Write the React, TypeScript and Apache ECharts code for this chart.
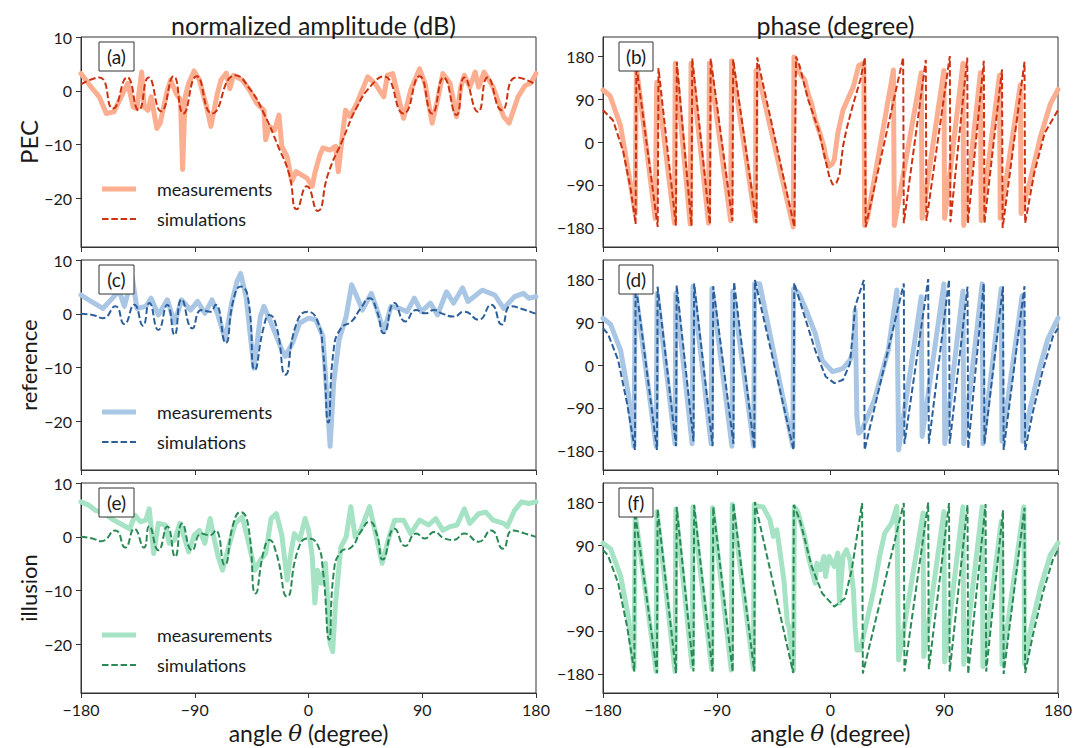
import React, { useEffect, useRef } from 'react';
import * as echarts from 'echarts';

// ---------- tick labels / categories ----------
const ANGLE_TICKS = [-180, -90, 0, 90, 180];
const AMP_TICKS = [-20, -10, 0, 10];
const PHASE_TICKS = [-180, -90, 0, 90, 180];
const ROW_NAMES = ['PEC', 'reference', 'illusion'];
const PANEL_LABELS = ['(a)', '(b)', '(c)', '(d)', '(e)', '(f)'];
const COL_TITLES = ['normalized amplitude (dB)', 'phase (degree)'];
const LEGEND_NAMES = ['measurements', 'simulations'];

// ---------- colours ----------
const LIGHT = ['#fcae91', '#a9c7e5', '#a6e3c5'];
const DARK = ['#cc3311', '#2c5f9a', '#2a8a56'];

// ---------- data: [angle (deg), value] ----------
const PEC_AMP_MEAS: number[][] = [
  [-180, 3.2], [-171, 0.4], [-165.6, -1.1], [-160, -4.2], [-154, -3.9], [-145.7, 0.1], [-143, 1.4], [-138.7, -3],
  [-135.8, -3.3], [-132, 3.5], [-130, -3], [-127, -3.6], [-124.5, -1.1], [-120, -7], [-117.4, -6], [-111.7, 0.1],
  [-109, 2], [-104.7, -0.5], [-101.3, -1.7], [-99.6, -14.6], [-97.6, -1.1], [-94.8, 1.4], [-90.5, 3.7], [-86.3, 2],
  [-80.6, -3], [-77.2, -6.6], [-72.1, -0.5], [-69.3, 2], [-65, 3.3], [-62.2, 0.4], [-59.4, 2.9], [-52.3, 2],
  [-46.6, 0.1], [-41, -2.3], [-35.3, -3.6], [-33.9, -9.1], [-31, -6.6], [-26.8, -7.3], [-23.4, -4.5], [-21.1, -10.3],
  [-16.9, -12.2], [-13.2, -16.8], [-9.8, -15], [-5.5, -15.6], [-1.3, -16.2], [3, -17.7], [5, -15.3], [8.6, -12.2],
  [11.4, -10.6], [17.1, -11], [21.4, -10.3], [23.6, -15], [27, -7.9], [29.3, -3.6], [32.7, -4.8], [38.3, -2.3],
  [46.8, 2.6], [52.5, 1.4], [59.6, -1.1], [62.4, 2.9], [66.7, 3.2], [75.2, -5.1], [80.8, 0.1], [87.9, 4.1],
  [92.2, 1.4], [97.8, -6], [102.1, -1.7], [106.3, 3.2], [112, 1.4], [117.1, -4.8], [120.5, 0.7], [123.3, 2.9],
  [127.6, 0.7], [131.9, 3.5], [134.6, 0.7], [138.9, 3.5], [146, 0.7], [154.4, -4.8], [158.7, -6], [165.8, -1.1],
  [171.5, 1], [175.7, 1.4], [180, 3.2],
];
const PEC_AMP_SIM: number[][] = [
  [-180, 1.2], [-165.6, 2.5], [-154.8, -3.3], [-143.5, 2.5], [-134.4, -3.6], [-126.5, 2.5], [-116.6, -3.8],
  [-106.7, 2.7], [-99, -4.2], [-88.5, 2.7], [-76.3, -4.2], [-58, 2.9], [-46.6, 0.4], [-35.3, -4.2], [-24, -10.3],
  [-15.5, -15.3], [-9.2, -22], [-1.3, -17.7], [7.2, -22.3], [15.7, -15.3], [27, -9.1], [38.3, -3], [49.7, 1],
  [59.6, 2.7], [75.2, -4.2], [87.9, 2.7], [97.8, -4.2], [106.9, 2.5], [117.1, -4.5], [123.3, 2.5], [134.1, -3.9],
  [141.7, 2.5], [153, -3.6], [164.4, 2.5], [180, 1.2],
];
const REF_AMP_MEAS: number[][] = [
  [-180, 3.5], [-174, 2.6], [-162.7, 1], [-154, 3.2], [-150, 4.4], [-145.7, 1.4], [-139.5, 6.9], [-135.8, 1],
  [-128.7, 1.4], [-124.5, 2.9], [-118.8, -0.2], [-111.7, 2.6], [-106, -1.7], [-100.4, 2.6], [-93.3, 0.7],
  [-87.7, 2.3], [-82, 0.1], [-76.3, 2.6], [-72.1, 0.1], [-65.9, -4.8], [-60.8, 2], [-56.6, 6], [-53.7, 7.5],
  [-49.4, 3.2], [-43.2, -10.1], [-38.1, -0.5], [-35.3, 1.4], [-29.6, -1.7], [-21.1, -6.7], [-18.3, -7.9],
  [-12.6, -5.4], [-7, -1.7], [0.1, -0.8], [5.8, -1.1], [11.4, -4.2], [15.1, -17.2], [17.1, -24.6], [19.9, -12.8],
  [24.2, -4.8], [29.8, -0.5], [34.1, 5.4], [38.3, 3.2], [42.6, 0.7], [49.7, 3.8], [53.9, 1], [59.6, -3.3],
  [65.3, 1.4], [72.3, 1], [78, 0.4], [83.7, 2.9], [89.3, 0.4], [96.4, 2], [102.1, -0.2], [109.2, 4.1],
  [114.8, 2], [121.9, 4.8], [126.2, 2.3], [137.5, 4.4], [147.4, 3.5], [154.4, 1], [163, 3.2], [170, 3.8],
  [174.3, 2.9], [180, 3.2],
];
const REF_AMP_SIM: number[][] = [
  [-180, 0], [-171, -0.2], [-162.7, -0.8], [-152.8, 1.4], [-145.7, -1.9], [-137.8, 1.7], [-131, -2.2],
  [-125.9, 2], [-118.8, -3], [-111.7, 1.7], [-106, -3.9], [-100.4, 2.7], [-91.9, -2.7], [-84.8, 0.7],
  [-77.8, 0.4], [-73.5, 1.7], [-65.6, -5.4], [-59.4, 2.6], [-53.7, 5.1], [-48, 3.2], [-42.4, -10.4],
  [-35.3, -2.3], [-31, -0.2], [-25.4, -2.3], [-18.3, -11.3], [-9.8, -2], [-0.7, 0.4], [7.2, -1.4],
  [11.4, -6.7], [15.7, -20.2], [19.9, -6.7], [25.6, -2.7], [34.1, -1.4], [41.2, 1], [48.3, 2.9], [53.9, 0.7],
  [59.6, -3.6], [68.1, 2], [76.6, -1.4], [85.1, 0.7], [92.2, 0.1], [99.2, 0.7], [106.3, 0], [114.8, -0.5],
  [123.3, 0.4], [134.6, -1.1], [144.5, 1.7], [153, -2], [160.1, 1.4], [171.5, 0.7], [180, 0],
];
const ILL_AMP_MEAS: number[][] = [
  [-180, 6.5], [-174, 5.9], [-168.4, 4.9], [-161.3, 4.3], [-154, 3.1], [-147, 2.2], [-141.5, 1.5], [-137.2, 4],
  [-133, 2.8], [-128.7, 3.1], [-126, 5.2], [-122.5, -3.1], [-118.8, 2.5], [-113.2, 2.2], [-110.3, -1.2],
  [-106, -0.6], [-101.8, 2.5], [-94.8, -2.8], [-90.5, 0.3], [-86.3, 1.2], [-82, -1.2], [-77.8, 3.4], [-75, 0],
  [-71.5, -3.7], [-68, -6.2], [-63.6, -2.2], [-58, 2.5], [-52.3, 3.7], [-46.6, -1.9], [-42.4, -6.2],
  [-38.1, -4.3], [-33.9, -3.1], [-29.6, 3.4], [-25.4, 4.3], [-21.1, 0.3], [-16.9, -8], [-14, -3.1],
  [-11.2, 0.6], [-7, -0.6], [-2.7, 3.4], [0.1, 1.2], [3, -3.7], [5, -12.3], [7.2, -6.2], [10, -8.6],
  [13.4, -4.9], [17.1, -19.8], [19.1, -21.3], [21.4, -12.3], [25.6, -1.9], [29.8, 0], [33.5, 5.6], [36.9, 0],
  [41.2, 1.2], [48.3, 5.6], [52.5, 1.2], [58.2, -4.9], [63.8, 0], [68.1, 3.1], [75.2, 3.1], [80.8, 0.6],
  [87.9, 3.1], [95, 2.2], [100.6, 3.4], [106.3, 1.2], [112, 1.9], [117.6, 2.2], [123.3, 5.2], [127.6, 2.5],
  [134.6, 4.3], [140.3, 4.6], [146, 3.1], [154.4, 2.5], [157.3, 1.9], [163, 4.9], [168.6, 6.5], [174.3, 6.2],
  [180, 6.5],
];
const ILL_AMP_SIM: number[][] = [
  [-180, 0], [-171, -0.3], [-164, -0.8], [-152.8, 1.2], [-145, -2], [-137.8, 1.5], [-130.2, -2], [-126, 2],
  [-118.8, -2.5], [-111.7, 1.9], [-105.5, -3.7], [-100, 2.5], [-92, -2.5], [-84.8, 0.6], [-77.8, 0.3],
  [-73.5, 1.2], [-66.4, -5.2], [-59.4, 2.5], [-53.7, 4.6], [-48, 2.5], [-41.8, -10.5], [-35.3, -2.5],
  [-31, -0.6], [-25.4, -3.1], [-16.9, -11.1], [-8.4, -2.5], [-0.7, -0.3], [7.2, -1.5], [11.4, -6.2],
  [16.3, -19.1], [19.9, -6.8], [25.6, -2.8], [34.1, -1.9], [41.2, 0.9], [48.3, 2.8], [53.9, 0.6], [58.8, -4.2],
  [68.1, 1.5], [76.6, -1.7], [85.1, 0.6], [92.2, -0.3], [99.2, 0.9], [107.7, -0.3], [114.8, -0.6], [123.3, 0.6],
  [134.6, -0.9], [144.5, 1.2], [153.8, -2.2], [161.5, 1.2], [171.5, 0.6], [180, 0],
];

const PEC_PH_MEAS: number[][] = [
  [-180, 109], [-174.5, 97], [-166.2, 35], [-159.4, -70], [-154.5, -150], [-153.6, 158], [-138.7, -160],
  [-137.5, 125], [-136.5, 110], [-123.5, -170], [-122.8, 165], [-111, -172], [-110.3, 165], [-96.5, -170],
  [-95.8, 165], [-79, -165], [-78.3, 170], [-59.5, -165], [-58.9, 150], [-57.5, 145], [-29.5, -178],
  [-28.9, 178], [-25.9, 150], [-24.5, 145], [-20.4, 130], [-17.6, 100], [-14.9, 80], [-12.1, 47], [-8, 15],
  [-5.2, -10], [-3.9, -30], [-1.1, -51], [1.6, -45], [3, -37], [5.8, 19], [9.9, 67], [18.1, 116], [22.3, 160],
  [26.4, 165], [27, -175], [29.2, -160], [49.8, 151], [50.5, -175], [71.8, 145], [72.5, -160], [89.7, 150],
  [90.3, -160], [104.8, 165], [105.4, -175], [118.6, 145], [119.2, -165], [133.7, 140], [134.3, -160],
  [150.2, 120], [150.8, -150], [158, -80], [166, 10], [174, 80], [180, 110],
];
const PEC_PH_SIM: number[][] = [
  [-180, 67], [-172, 45], [-164, -20], [-158, -100], [-154.2, -172], [-153.6, 160], [-136.7, -178],
  [-136.1, 155], [-122.3, -175], [-121.6, 168], [-110, -176], [-109.4, 175], [-95.4, -172], [-94.8, 175],
  [-77.6, -165], [-77, 173], [-58.6, -170], [-58, 177], [-28.6, -178], [-27.3, 179], [-24.5, 160],
  [-17.6, 88], [-9.4, 25], [-1.1, -71], [1.6, -89], [4.4, -88], [7.1, -70], [9.9, -9], [12.6, 26], [18.1, 81],
  [23.6, 130], [27.2, 177], [27.8, -178], [57.5, 177], [58, -170], [75.4, 172], [75.9, -165], [94.4, 180],
  [94.9, -168], [108.2, 177], [108.7, -170], [121.3, 170], [121.8, -170], [135.7, 152], [136.2, -180],
  [153.5, 168], [154, -170], [161.2, -65], [169.5, 19], [180, 67],
];
const REF_PH_MEAS: number[][] = [
  [-180, 98], [-174, 85], [-166, 30], [-160, -60], [-155.5, -170], [-154.5, 160], [-138, -170], [-137.2, 150],
  [-123, -165], [-122.4, 150], [-109.5, -165], [-108.8, 165], [-94.5, -165], [-93.8, 160], [-78, -170],
  [-77.3, 155], [-60.8, -170], [-60, 170], [-56, 170], [-29.8, -170], [-29.2, 160], [-25, 150], [-20, 120],
  [-12.1, 66], [-6.6, 10], [1.6, -14], [7, -10], [9.9, -7], [15.4, 10], [18.1, 31], [19.5, 115], [20.9, -108],
  [22.3, -143], [25, -136], [34.7, -73], [45.7, 31], [52.5, 157], [53.9, -178], [71.8, 143], [72.5, -150],
  [89.7, 170], [90.4, -165], [104.8, 155], [105.4, -165], [120, 170], [120.6, -165], [135.1, 160],
  [135.7, -160], [151.6, 145], [152.2, -160], [158, -90], [165, -10], [172, 55], [180, 98],
];
const REF_PH_SIM: number[][] = [
  [-180, 77], [-176, 65], [-168, 10], [-161, -80], [-154.7, -178], [-154.2, 171], [-137.3, -178],
  [-136.8, 164], [-122.2, -170], [-121.7, 167], [-108.4, -160], [-107.9, 171], [-93.3, -170], [-92.8, 165],
  [-76.8, -165], [-76.3, 174], [-60.3, -175], [-59.8, 178], [-29.2, -178], [-28.7, 172], [-20.4, 101],
  [-12.1, 31], [-3.9, -24], [3, -38], [9.9, -31], [15.4, 3], [18.1, 80], [19.5, 122], [22.3, 146], [26.4, 178],
  [27, -178], [58, 171], [58.5, -165], [77.3, 180], [77.8, -165], [93.8, 179], [94.3, -165], [108.4, 164],
  [108.9, -175], [121.3, 171], [121.8, -165], [136.5, 165], [137, -178], [153.5, 165], [154, -178],
  [160, -100], [168, -10], [176, 60], [180, 77],
];
const ILL_PH_MEAS: number[][] = [
  [-180, 94], [-174, 82], [-166, 25], [-160, -60], [-155.5, -168], [-154.5, 155], [-138, -175], [-137.3, 160],
  [-123, -175], [-122.4, 165], [-109.5, -165], [-108.8, 170], [-94, -170], [-93.3, 168], [-78.5, -172],
  [-77.8, 175], [-61, -170], [-60.3, 175], [-58.9, 172], [-53.4, 170], [-47.9, 143], [-45.2, 108],
  [-42.4, 122], [-36.9, 17], [-34.1, -74], [-32.8, -81], [-31.4, -116], [-29.2, -172], [-28.6, 170],
  [-25.9, 160], [-20.4, 107], [-17.6, 66], [-14.9, 38], [-12.1, 10], [-10.8, 52], [-8, 38], [-5.2, 66],
  [-3.9, 24], [-1.1, 66], [3, 45], [5.8, 73], [7.1, -32], [9.9, 66], [12.6, 80], [15.4, 59], [18.1, -4],
  [19.5, -81], [20.9, -130], [23.6, -130], [31.9, -32], [34.7, 3], [38.8, 66], [42.9, 115], [48.4, 136],
  [52.5, 171], [53.9, -151], [73.2, 157], [73.8, -144], [89.7, 160], [90.3, -155], [104.8, 170],
  [105.4, -160], [120, 170], [120.6, -165], [135.1, 140], [135.7, -160], [153, 170], [153.5, -160],
  [158, -90], [166, 0], [174, 70], [180, 94],
];
const ILL_PH_SIM: number[][] = [
  [-180, 80], [-176, 68], [-168, 10], [-161, -80], [-155.2, -175], [-154.7, 160], [-137.3, -178],
  [-136.8, 165], [-122.2, -178], [-121.7, 170], [-108.4, -175], [-107.9, 174], [-93.3, -175], [-92.8, 170],
  [-77.4, -175], [-76.9, 178], [-60.3, -175], [-59.8, 180], [-29.5, -178], [-29, 174], [-24, 140],
  [-14.9, 45], [-6.6, -11], [3, -39], [11.3, -22], [16.8, 38], [20.9, 108], [25, 178], [25.6, -179],
  [58, 178], [58.5, -175], [77.3, 179], [77.8, -170], [93.8, 178], [94.3, -175], [108.4, 174], [108.9, -180],
  [122.7, 176], [123.2, -175], [136.5, 163], [137, -180], [153.5, 168], [154, -178], [160, -100], [168, -10],
  [176, 60], [180, 80],
];

const AMP_MEAS = [PEC_AMP_MEAS, REF_AMP_MEAS, ILL_AMP_MEAS];
const AMP_SIM = [PEC_AMP_SIM, REF_AMP_SIM, ILL_AMP_SIM];
const PH_MEAS = [PEC_PH_MEAS, REF_PH_MEAS, ILL_PH_MEAS];
const PH_SIM = [PEC_PH_SIM, REF_PH_SIM, ILL_PH_SIM];

// ---------- layout ----------
const FONT = 'Lato, "Liberation Sans", sans-serif';
const GRID_LEFT = [81, 603];
const GRID_TOP = [37, 260, 483];
const GRID_W = 455;
const GRID_H = 210;
const AXIS_COLOR = '#333';
const TEXT_COLOR = '#1a1a1a';

const fmt = (v: number) => (v < 0 ? '\u2212' + Math.abs(v) : String(v));

export default function App() {
  const ref = useRef<HTMLDivElement>(null);

  useEffect(() => {
    if (!ref.current) return;
    const chart = echarts.init(ref.current, null, { renderer: 'svg' });

    const grid: any[] = [];
    const xAxis: any[] = [];
    const yAxis: any[] = [];
    const series: any[] = [];
    const graphic: any[] = [];

    for (let r = 0; r < 3; r++) {
      for (let c = 0; c < 2; c++) {
        const i = r * 2 + c;
        const left = GRID_LEFT[c];
        const top = GRID_TOP[r];
        grid.push({
          left, top, width: GRID_W, height: GRID_H,
          show: true, borderColor: AXIS_COLOR, borderWidth: 1, backgroundColor: 'transparent',
          containLabel: false,
        });
        const bottomRow = r === 2;
        xAxis.push({
          type: 'value', gridIndex: i, min: -180, max: 180, interval: 90,
          axisLine: { show: true, onZero: false, lineStyle: { color: AXIS_COLOR, width: 1 } },
          axisTick: { show: true, inside: false, length: 5, lineStyle: { color: AXIS_COLOR }, customValues: ANGLE_TICKS },
          axisLabel: {
            show: bottomRow, fontSize: 16, color: TEXT_COLOR, fontFamily: FONT, margin: 8,
            formatter: (v: number) => fmt(v), customValues: ANGLE_TICKS,
          },
          splitLine: { show: false },
          name: bottomRow ? 'angle {i|θ} (degree)' : '',
          nameLocation: 'middle',
          nameGap: 28,
          nameTextStyle: {
            fontSize: 23, color: TEXT_COLOR, fontFamily: FONT,
            rich: { i: { fontSize: 23, fontStyle: 'italic', fontFamily: '"DejaVu Serif", serif', color: TEXT_COLOR } },
          },
        });
        const isAmp = c === 0;
        const ticks = isAmp ? AMP_TICKS : PHASE_TICKS;
        yAxis.push({
          type: 'value', gridIndex: i,
          min: isAmp ? -29 : -220, max: isAmp ? 10 : 220,
          axisLine: { show: true, onZero: false, lineStyle: { color: AXIS_COLOR, width: 1 } },
          axisTick: { show: true, inside: false, length: 5, lineStyle: { color: AXIS_COLOR }, customValues: ticks },
          axisLabel: {
            show: true, fontSize: 16, color: TEXT_COLOR, fontFamily: FONT, margin: 9,
            formatter: (v: number) => fmt(v), customValues: ticks,
          },
          splitLine: { show: false },
          name: isAmp ? ROW_NAMES[r] : '',
          nameLocation: 'middle',
          nameRotate: 90,
          nameGap: r === 0 ? 40 : 42,
          nameTextStyle: { fontSize: r === 0 ? 24 : 22, color: TEXT_COLOR, fontFamily: FONT },
        });

        const meas = isAmp ? AMP_MEAS[r] : PH_MEAS[r];
        const sim = isAmp ? AMP_SIM[r] : PH_SIM[r];
        series.push({
          type: 'line', name: ROW_NAMES[r] + ' ' + LEGEND_NAMES[0] + (isAmp ? ' amp' : ' phase'),
          xAxisIndex: i, yAxisIndex: i, data: meas, showSymbol: false, symbol: 'none',
          lineStyle: { color: LIGHT[r], width: 5, cap: 'round', join: 'round' }, z: 2,
        });
        series.push({
          type: 'line', name: ROW_NAMES[r] + ' ' + LEGEND_NAMES[1] + (isAmp ? ' amp' : ' phase'),
          xAxisIndex: i, yAxisIndex: i, data: sim, showSymbol: false, symbol: 'none',
          smooth: isAmp ? 0.55 : false,
          lineStyle: { color: DARK[r], width: 2, type: [6.5, 2.8] }, z: 3,
        });

        // panel label box
        const bx = left + (c === 0 ? 18 : 16);
        const by = top + 5;
        const bw = c === 0 ? 35 : 34;
        graphic.push({
          type: 'rect', shape: { x: bx, y: by, width: bw, height: 29 },
          style: { fill: '#fff', stroke: AXIS_COLOR, lineWidth: 1 }, z: 10,
        });
        graphic.push({
          type: 'text', x: bx + bw / 2, y: by + 14.5, z: 11,
          style: { text: PANEL_LABELS[i], fill: TEXT_COLOR, fontSize: 19, fontFamily: FONT, align: 'center', verticalAlign: 'middle' },
        });

        if (isAmp) {
          // legend
          const ly1 = top + 152;
          const ly2 = top + 182;
          graphic.push({
            type: 'line', shape: { x1: left + 21, y1: ly1, x2: left + 55, y2: ly1 },
            style: { stroke: LIGHT[r], lineWidth: 5 }, z: 10,
          });
          graphic.push({
            type: 'line', shape: { x1: left + 21, y1: ly2, x2: left + 55, y2: ly2 },
            style: { stroke: DARK[r], lineWidth: 2, lineDash: [6.5, 2.8] }, z: 10,
          });
          graphic.push({
            type: 'text', x: left + 76, y: ly1, z: 10,
            style: { text: LEGEND_NAMES[0], fill: TEXT_COLOR, fontSize: 18, fontFamily: FONT, align: 'left', verticalAlign: 'middle' },
          });
          graphic.push({
            type: 'text', x: left + 76, y: ly2, z: 10,
            style: { text: LEGEND_NAMES[1], fill: TEXT_COLOR, fontSize: 18, fontFamily: FONT, align: 'left', verticalAlign: 'middle' },
          });
        }
      }
    }

    const title = COL_TITLES.map((t, c) => ({
      text: t,
      left: GRID_LEFT[c] + GRID_W / 2,
      top: 7,
      textAlign: 'center',
      textStyle: { fontSize: 25, fontWeight: 'normal', color: TEXT_COLOR, fontFamily: FONT },
    }));

    chart.setOption({
      animation: false,
      backgroundColor: '#fff',
      title,
      grid,
      xAxis,
      yAxis,
      series,
      graphic,
    });

    return () => chart.dispose();
  }, []);

  return (
    <div
      ref={ref}
      style={{ position: 'fixed', left: 0, top: 0, width: 1084, height: 748, background: '#fff' }}
    />
  );
}
